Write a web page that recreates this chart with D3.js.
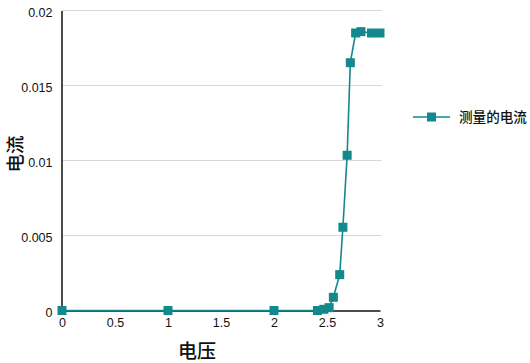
<!DOCTYPE html>
<html><head><meta charset="utf-8">
<script src="https://cdn.jsdelivr.net/npm/d3@7"></script>
<style>body{margin:0;background:#fff}svg{display:block}</style>
</head><body>
<svg id="c" width="530" height="363"></svg>
<script>
const voltage = [0, 1, 2, 2.41, 2.47, 2.52, 2.56, 2.62, 2.65, 2.69, 2.72, 2.77, 2.82, 2.92, 3.0];
const current = [0, 0, 0, 0, 0.00008, 0.00019, 0.00088, 0.00239, 0.00555, 0.01035, 0.01652, 0.0185, 0.01859, 0.0185, 0.0185];
const xTicks = [0, 0.5, 1, 1.5, 2, 2.5, 3];
const yTicks = [0, 0.005, 0.01, 0.015, 0.02];
const xTitle = "电压", yTitle = "电流", seriesName = "测量的电流";
const color = "#12898c";
const svg = d3.select("#c");
const x = d3.scaleLinear().domain([0, 3]).range([62, 380]);
const y = d3.scaleLinear().domain([0, 0.02]).range([310.5, 10.5]);
const font = "'Liberation Sans', Arial, sans-serif";
const cjk = "'Noto Sans CJK SC', sans-serif";
// gridlines
svg.append("g").selectAll("line").data(yTicks.filter(d => d > 0)).join("line")
  .attr("x1", x(0)).attr("x2", x(3) + 2).attr("y1", d => y(d)).attr("y2", d => y(d))
  .attr("stroke", "#d9d9d9").attr("stroke-width", 1);
// axes
const xa = svg.append("g").attr("transform", `translate(0,${y(0)})`)
  .call(d3.axisBottom(x).tickValues(xTicks).tickSize(0).tickPadding(8).tickFormat(d3.format("")));
const ya = svg.append("g").attr("transform", `translate(${x(0) - 0.5},0)`)
  .call(d3.axisLeft(y).tickValues(yTicks).tickSize(0).tickPadding(9).tickFormat(d => d === 0 ? "0" : String(d)));
[xa, ya].forEach(a => {
  a.select(".domain").attr("stroke", "#111").attr("stroke-width", 1.5);
  a.selectAll("text").attr("font-family", font).attr("font-size", 12.5).attr("fill", "#111");
});
ya.selectAll(".tick text").attr("dy", "0.45em");
// line
svg.append("path").datum(voltage.map((v, i) => [v, current[i]]))
  .attr("fill", "none").attr("stroke", color).attr("stroke-width", 1.6)
  .attr("d", d3.line().x(d => x(d[0])).y(d => y(d[1])));
const ms = 9;
svg.append("g").selectAll("rect").data(voltage.map((v, i) => [v, current[i]])).join("rect")
  .attr("x", d => x(d[0]) - ms / 2).attr("y", d => y(d[1]) - ms / 2)
  .attr("width", ms).attr("height", ms).attr("fill", color);
// titles
svg.append("text").attr("x", 197).attr("y", 358).attr("text-anchor", "middle")
  .attr("font-family", cjk).attr("font-size", 19).attr("font-weight", 500).attr("fill", "#111").text(xTitle);
svg.append("text").attr("transform", "translate(22,154) rotate(-90)").attr("text-anchor", "middle")
  .attr("font-family", cjk).attr("font-size", 18.5).attr("font-weight", 500).attr("fill", "#111").text(yTitle);
// legend
const lg = svg.append("g");
lg.append("line").attr("x1", 413).attr("x2", 450).attr("y1", 117).attr("y2", 117)
  .attr("stroke", color).attr("stroke-width", 1.6);
lg.append("rect").attr("x", 431.5 - ms / 2).attr("y", 117 - ms / 2).attr("width", ms).attr("height", ms).attr("fill", color);
lg.append("text").attr("x", 459).attr("y", 122).attr("font-family", cjk).attr("font-size", 13.6).attr("font-weight", 500)
  .attr("fill", "#111").text(seriesName);
</script>
</body></html>
